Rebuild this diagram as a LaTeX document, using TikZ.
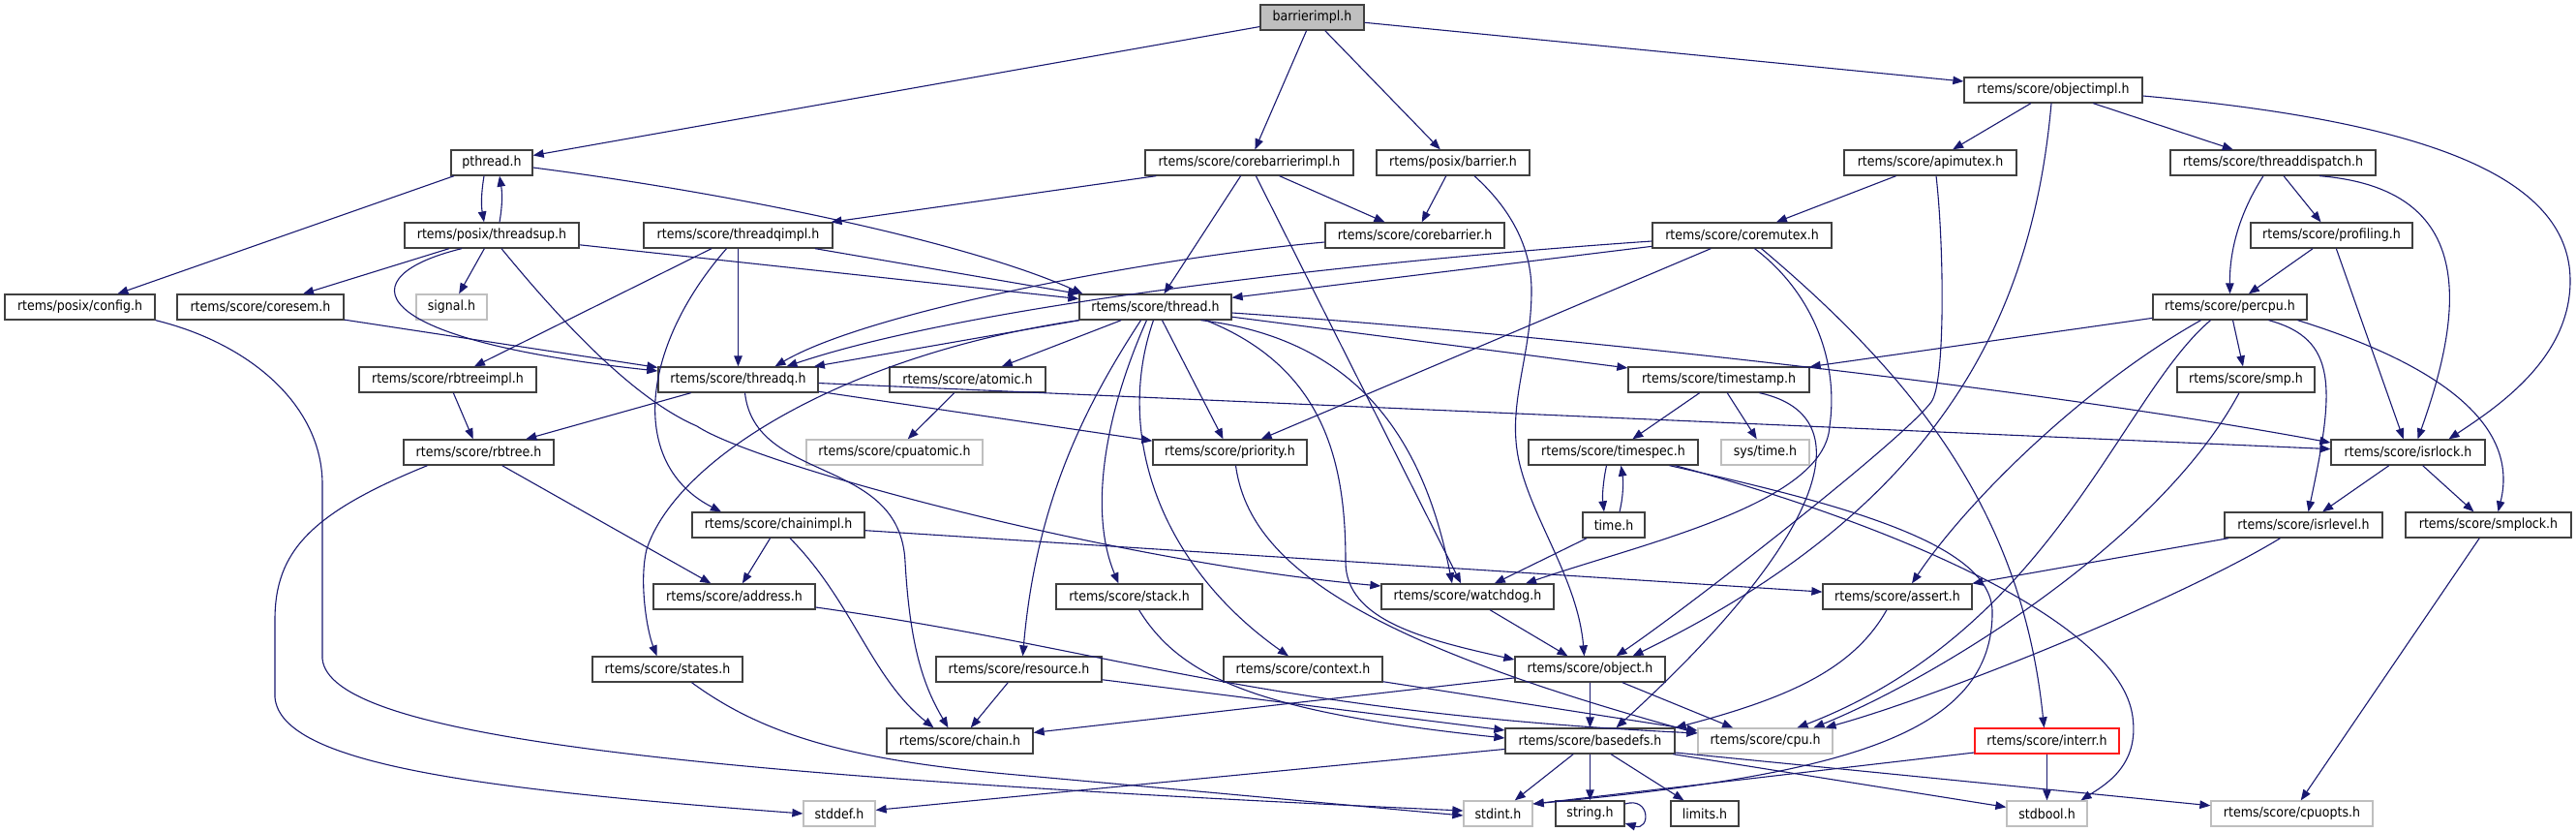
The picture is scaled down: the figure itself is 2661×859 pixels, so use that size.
\documentclass[tikz,border=0pt]{standalone}
\usepackage{fontspec}
\setmainfont{DejaVu Sans}[FakeStretch=0.9]
\usetikzlibrary{arrows.meta}
\definecolor{edgec}{HTML}{191970}
\begin{document}
\begin{tikzpicture}[x=1pt,y=-1pt,
  nd/.style={draw=black!75, line width=1.3pt, fill=white, minimum height=26pt, inner sep=0pt, text=black, font=\fontsize{14pt}{16pt}\selectfont},
  gnd/.style={nd, draw=black!25},
  rnd/.style={nd, draw=red!90!white},
  edg/.style={draw=edgec, line width=1.1pt, -{Triangle[length=11pt,width=8.5pt]}}]
\useasboundingbox (0,0) rectangle (2661,859);
% row 0
\node[nd, minimum width=107pt, fill=black!25] (barrierimpl) at (1355.5,18) {barrierimpl.h};
% row 1
\node[nd, minimum width=184pt] (objectimpl) at (2121,93) {rtems/score/objectimpl.h};
% row 2
\node[nd, minimum width=84pt] (pthread) at (508,168) {pthread.h};
\node[nd, minimum width=215pt] (corebarrierimpl) at (1290.5,168) {rtems/score/corebarrierimpl.h};
\node[nd, minimum width=158pt] (barrier) at (1501,168) {rtems/posix/barrier.h};
\node[nd, minimum width=178pt] (apimutex) at (1994,168) {rtems/score/apimutex.h};
\node[nd, minimum width=212pt] (threaddispatch) at (2348,168) {rtems/score/threaddispatch.h};
% row 3
\node[nd, minimum width=180pt] (threadsup) at (508,243) {rtems/posix/threadsup.h};
\node[nd, minimum width=195pt] (threadqimpl) at (762.5,243) {rtems/score/threadqimpl.h};
\node[nd, minimum width=185pt] (corebarrier) at (1461.5,243) {rtems/score/corebarrier.h};
\node[nd, minimum width=185pt] (coremutex) at (1799.5,243) {rtems/score/coremutex.h};
\node[nd, minimum width=167pt] (profiling) at (2408.5,243) {rtems/score/profiling.h};
% row 4
\node[nd, minimum width=155pt] (config) at (82.5,317) {rtems/posix/config.h};
\node[nd, minimum width=172pt] (coresem) at (269,317) {rtems/score/coresem.h};
\node[gnd, minimum width=73pt] (signal) at (466.5,317) {signal.h};
\node[nd, minimum width=157pt] (thread) at (1193.5,317) {rtems/score/thread.h};
\node[nd, minimum width=159pt] (percpu) at (2303.5,317) {rtems/score/percpu.h};
% row 5
\node[nd, minimum width=183pt] (rbtreeimpl) at (462.5,392) {rtems/score/rbtreeimpl.h};
\node[nd, minimum width=165pt] (threadq) at (762.5,392) {rtems/score/threadq.h};
\node[nd, minimum width=161pt] (atomic) at (999.5,392) {rtems/score/atomic.h};
\node[nd, minimum width=187pt] (timestamp) at (1775.5,392) {rtems/score/timestamp.h};
\node[nd, minimum width=142pt] (smp) at (2320,392) {rtems/score/smp.h};
% row 6
\node[nd, minimum width=155pt] (rbtree) at (494.5,467) {rtems/score/rbtree.h};
\node[gnd, minimum width=182pt] (cpuatomic) at (924,467) {rtems/score/cpuatomic.h};
\node[nd, minimum width=159pt] (priority) at (1270.5,467) {rtems/score/priority.h};
\node[nd, minimum width=175pt] (timespec) at (1666.5,467) {rtems/score/timespec.h};
\node[gnd, minimum width=91pt] (systime) at (1823.5,467) {sys/time.h};
\node[nd, minimum width=159pt] (isrlock) at (2487.5,467) {rtems/score/isrlock.h};
% row 7
\node[nd, minimum width=178pt] (chainimpl) at (804,542) {rtems/score/chainimpl.h};
\node[nd, minimum width=64pt] (time) at (1667,542) {time.h};
\node[nd, minimum width=163pt] (isrlevel) at (2379.5,542) {rtems/score/isrlevel.h};
\node[nd, minimum width=171pt] (smplock) at (2570.5,542) {rtems/score/smplock.h};
% row 8
\node[nd, minimum width=167pt] (address) at (758.5,616) {rtems/score/address.h};
\node[nd, minimum width=151pt] (stack) at (1166.5,616) {rtems/score/stack.h};
\node[nd, minimum width=178pt] (watchdog) at (1516,616) {rtems/score/watchdog.h};
\node[nd, minimum width=154pt] (assert) at (1960,616) {rtems/score/assert.h};
% row 9
\node[nd, minimum width=155pt] (states) at (689.5,691) {rtems/score/states.h};
\node[nd, minimum width=171pt] (resource) at (1052.5,691) {rtems/score/resource.h};
\node[nd, minimum width=164pt] (context) at (1346,691) {rtems/score/context.h};
\node[nd, minimum width=155pt] (object) at (1642.5,691) {rtems/score/object.h};
% row 10
\node[nd, minimum width=151pt] (chain) at (991.5,765) {rtems/score/chain.h};
\node[nd, minimum width=175pt] (basedefs) at (1642.5,765) {rtems/score/basedefs.h};
\node[gnd, minimum width=139pt] (cpu) at (1823.5,765) {rtems/score/cpu.h};
\node[rnd, minimum width=149pt] (interr) at (2114.5,765) {rtems/score/interr.h};
% row 11
\node[gnd, minimum width=74pt] (stddef) at (867,840) {stddef.h};
\node[gnd, minimum width=71pt] (stdint) at (1547.5,840) {stdint.h};
\node[nd, minimum width=71pt] (string) at (1642.5,840) {string.h};
\node[nd, minimum width=70pt] (limits) at (1761,840) {limits.h};
\node[gnd, minimum width=83pt] (stdbool) at (2114.5,840) {stdbool.h};
\node[gnd, minimum width=167pt] (cpuopts) at (2367.5,840) {rtems/score/cpuopts.h};

% ---- edges ----
\draw[edg] (barrierimpl) -- (pthread);
\draw[edg] (barrierimpl) -- (corebarrierimpl);
\draw[edg] (barrierimpl) -- (barrier);
\draw[edg] (barrierimpl) -- (objectimpl);
% pthread
\draw[edg] (pthread) -- (config);
\draw[edg] ([xshift=-8pt]pthread.south) .. controls (497,200) and (497,212) .. ([xshift=-8pt]threadsup.north);
\draw[edg] ([yshift=-5pt]pthread.east) .. controls (760,200) and (1000,250) .. ([xshift=-75pt]thread.north);
% threadsup
\draw[edg] ([xshift=8pt]threadsup.north) .. controls (519,212) and (519,200) .. ([xshift=8pt]pthread.south);
\draw[edg] (threadsup) -- (coresem);
\draw[edg] (threadsup) -- (signal);
\draw[edg] (threadsup) -- (thread);
\draw[edg] ([xshift=-31pt]threadsup.south) .. controls (360,285) and (370,350) .. ([yshift=9pt]threadq.west);
\draw[edg] ([xshift=10pt]threadsup.south) .. controls (570,320) and (650,410) .. (720,440) .. controls (780,480) and (1150,580) .. ([yshift=11pt]watchdog.west);
% coresem
\draw[edg] (coresem) -- (threadq);
% threadqimpl
\draw[edg] (threadqimpl) -- (threadq);
\draw[edg] (threadqimpl) -- (rbtreeimpl);
\draw[edg] ([xshift=-12pt]threadqimpl.south) .. controls (660,360) and (650,480) .. ([xshift=-59pt]chainimpl.north);
\draw[edg] (threadqimpl) -- (thread);
% corebarrierimpl
\draw[edg] (corebarrierimpl) -- (threadqimpl);
\draw[edg] (corebarrierimpl) -- (corebarrier);
\draw[edg] (corebarrierimpl) -- (thread);
\draw[edg] (corebarrierimpl) -- (watchdog);
% barrier
\draw[edg] (barrier) -- (corebarrier);
\draw[edg] ([xshift=22pt]barrier.south) .. controls (1560,215) and (1582,255) .. (1582,300) .. controls (1582,370) and (1555,420) .. (1570,480) .. controls (1585,540) and (1630,600) .. ([xshift=-6pt]object.north);
% corebarrier
\draw[edg] ([yshift=-7pt]corebarrier.west) .. controls (1200,265) and (900,320) .. ([xshift=38pt]threadq.north);
% coremutex
\draw[edg] ([yshift=-6pt]coremutex.west) .. controls (1400,270) and (1000,315) .. ([xshift=50pt]threadq.north);
\draw[edg] (coremutex) -- (thread);
\draw[edg] (coremutex) -- (priority);
\draw[edg] ([xshift=13pt]coremutex.south) .. controls (1870,300) and (1900,370) .. (1890,440) .. controls (1885,520) and (1700,560) .. ([xshift=60pt]watchdog.north);
\draw[edg] ([xshift=20pt]coremutex.south) .. controls (1990,400) and (2090,540) .. ([xshift=-3pt]interr.north);
% apimutex
\draw[edg] (apimutex) -- (coremutex);
\draw[edg] ([xshift=6pt]apimutex.south) .. controls (2008,250) and (2010,395) .. (1995,415) .. controls (1965,455) and (1740,630) .. ([xshift=27pt]object.north);
% objectimpl
\draw[edg] (objectimpl) -- (apimutex);
\draw[edg] (objectimpl) -- (threaddispatch);
\draw[edg] ([xshift=-2pt]objectimpl.south) .. controls (2100,320) and (2010,520) .. ([xshift=44pt]object.north);
\draw[edg] ([yshift=-6pt]objectimpl.east) .. controls (2500,125) and (2655,180) .. (2655,290) .. controls (2655,370) and (2580,420) .. ([xshift=42pt]isrlock.north);
% threaddispatch
\draw[edg] ([xshift=-10pt]threaddispatch.south) .. controls (2310,225) and (2303,265) .. (percpu.north);
\draw[edg] (threaddispatch) -- (profiling);
\draw[edg] ([xshift=48pt]threaddispatch.south) .. controls (2560,195) and (2545,320) .. ([xshift=10pt]isrlock.north);
% profiling
\draw[edg] (profiling) -- (percpu);
\draw[edg] (profiling) -- (isrlock);
% percpu
\draw[edg] (percpu) -- (timestamp);
\draw[edg] ([xshift=-30pt]percpu.south) .. controls (2150,400) and (2030,520) .. ([xshift=15pt]assert.north);
\draw[edg] ([xshift=-20pt]percpu.south) .. controls (2190,410) and (2120,650) .. ([xshift=33pt]cpu.north);
\draw[edg] (percpu) -- (smp);
\draw[edg] ([xshift=40pt]percpu.south) .. controls (2415,350) and (2412,400) .. ([xshift=5pt]isrlevel.north);
\draw[edg] ([xshift=70pt]percpu.south) .. controls (2500,370) and (2605,430) .. ([xshift=10pt]smplock.north);
% smp
\draw[edg] ([xshift=-7pt]smp.south) .. controls (2230,560) and (2000,700) .. ([xshift=50pt]cpu.north);
% isrlock
\draw[edg] (isrlock) -- (isrlevel);
\draw[edg] (isrlock) -- (smplock);
% isrlevel
\draw[edg] (isrlevel) -- (assert);
\draw[edg] ([xshift=-24pt]isrlevel.south) .. controls (2250,620) and (2000,720) .. ([xshift=62pt]cpu.north);
% smplock
\draw[edg] (smplock) -- (cpuopts);
% thread
\draw[edg] (thread) -- (threadq);
\draw[edg] (thread) -- (atomic);
\draw[edg] (thread) -- (timestamp);
\draw[edg] ([yshift=-6pt]thread.east) .. controls (1600,345) and (2100,400) .. ([yshift=10pt]isrlock.west);
\draw[edg] (thread) -- (priority);
\draw[edg] ([xshift=47pt]thread.south) .. controls (1400,350) and (1470,450) .. ([xshift=-16pt]watchdog.north);
\draw[edg] ([xshift=52pt]thread.south) .. controls (1370,380) and (1390,480) .. (1390,580) .. controls (1390,640) and (1470,660) .. ([yshift=10pt]object.west);
\draw[edg] ([xshift=-9pt]thread.south) .. controls (1140,430) and (1125,530) .. ([xshift=-11pt]stack.north);
\draw[edg] ([xshift=-15pt]thread.south) .. controls (1120,420) and (1070,520) .. ([xshift=4pt]resource.north);
\draw[edg] ([xshift=-2pt]thread.south) .. controls (1150,450) and (1200,585) .. ([xshift=-15pt]context.north);
\draw[edg] (thread.south west) .. controls (880,365) and (700,470) .. (668,567) .. controls (660,600) and (668,650) .. ([xshift=-11pt]states.north);
% threadq
\draw[edg] (threadq) -- (isrlock);
\draw[edg] (threadq) -- (rbtree);
\draw[edg] (threadq) -- (priority);
\draw[edg] ([xshift=7pt]threadq.south) .. controls (780,500) and (930,470) .. (935,580) .. controls (940,670) and (955,710) .. ([xshift=-12pt]chain.north);
% atomic
\draw[edg] (atomic) -- (cpuatomic);
% rbtree
\draw[edg] (rbtreeimpl) -- (rbtree);
\draw[edg] (rbtree) -- (address);
\draw[edg] ([xshift=-53pt]rbtree.south) .. controls (320,530) and (284,570) .. (284,640) -- (284,720) .. controls (290,790) and (500,815) .. (stddef.west);
% config
\draw[edg] (config.south east) .. controls (260,355) and (333,420) .. (333,500) -- (333,680) .. controls (340,760) and (700,800) .. ([yshift=3pt]stdint.west);
% chainimpl
\draw[edg] (chainimpl) -- (address);
\draw[edg] ([xshift=12pt]chainimpl.south) .. controls (880,620) and (900,700) .. ([xshift=-27pt]chain.north);
\draw[edg] (chainimpl) -- (assert);
% timestamp
\draw[edg] (timestamp) -- (timespec);
\draw[edg] (timestamp) -- (systime);
\draw[edg] ([xshift=42pt]timestamp.south) .. controls (1930,430) and (1880,560) .. ([xshift=27pt]basedefs.north);
% timespec / time
\draw[edg] ([xshift=-7pt]timespec.south) .. controls (1656,497) and (1655,512) .. ([xshift=-10pt]time.north);
\draw[edg] ([xshift=6pt]time.north) .. controls (1677,512) and (1677,497) .. ([xshift=8pt]timespec.south);
\draw[edg] ([xshift=58pt]timespec.south) .. controls (1900,520) and (2055,560) .. (2058,630) .. controls (2060,760) and (1900,800) .. ([yshift=10pt]stdint.east);
\draw[edg] ([xshift=64pt]timespec.south) .. controls (1950,540) and (2190,640) .. (2203,740) .. controls (2210,790) and (2175,810) .. ([xshift=35pt]stdbool.north);
\draw[edg] (time) -- (watchdog);
% address / priority / states
\draw[edg] ([yshift=-11pt]address.east) .. controls (1150,670) and (1300,735) .. ([yshift=8pt]cpu.west);
\draw[edg] ([xshift=6pt]priority.south) .. controls (1290,580) and (1400,660) .. ([yshift=8pt]cpu.west);
\draw[edg] ([xshift=25pt]states.south) .. controls (790,760) and (880,785) .. (1050,800) .. controls (1250,818) and (1400,832) .. ([yshift=-2pt]stdint.west);
% stack / resource / context / assert
\draw[edg] ([xshift=10pt]stack.south) .. controls (1220,700) and (1300,735) .. ([yshift=3pt]basedefs.west);
\draw[edg] (resource) -- (chain);
\draw[edg] (resource) -- (basedefs);
\draw[edg] (context) -- (cpu);
\draw[edg] ([xshift=-11pt]assert.south) .. controls (1915,690) and (1850,720) .. (basedefs.north east);
% watchdog / object
\draw[edg] (watchdog) -- (object);
\draw[edg] (object) -- (basedefs);
\draw[edg] (object) -- (chain);
\draw[edg] (object) -- (cpu);
% interr
\draw[edg] ([yshift=-12pt]interr.west) -- ([yshift=10pt]stdint.east);
\draw[edg] (interr) -- (stdbool);
% basedefs
\draw[edg] (basedefs) -- (stddef);
\draw[edg] (basedefs) -- (stdint);
\draw[edg] (basedefs) -- (string);
\draw[edg] (basedefs) -- (limits);
\draw[edg] (basedefs) -- (stdbool);
\draw[edg] ([yshift=-12pt]basedefs.east) -- (cpuopts);
% string self loop
\draw[edg] ([yshift=10pt]string.east) .. controls (1705,822) and (1705,858) .. ([yshift=-10pt]string.east);
\end{tikzpicture}
\end{document}
